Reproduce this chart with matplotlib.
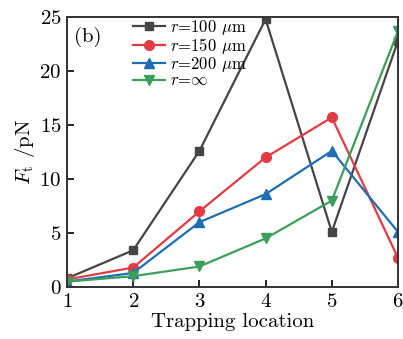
import matplotlib
matplotlib.use('Agg')
import matplotlib.pyplot as plt

plt.rcParams['font.family'] = 'serif'
plt.rcParams['font.serif'] = ['cmr10', 'DejaVu Serif']
plt.rcParams['mathtext.fontset'] = 'cm'
plt.rcParams['axes.formatter.use_mathtext'] = True

# trapping force at each trapping location
location = [1, 2, 3, 4, 5, 6]
f_r100 = [0.8, 3.4, 12.6, 24.8, 5.1, 22.8]
f_r150 = [0.7, 1.8, 7.0, 12.0, 15.7, 2.7]
f_r200 = [0.5, 1.3, 6.0, 8.6, 12.6, 5.1]
f_inf = [0.5, 1.0, 1.9, 4.5, 8.0, 23.7]

labels = [r'$r$=100 $\mathrm{\mu}$m', r'$r$=150 $\mathrm{\mu}$m',
          r'$r$=200 $\mathrm{\mu}$m', r'$r$=$\infty$']

fig = plt.figure(figsize=(4.03, 3.39), dpi=100)
ax = fig.add_axes([67/403, 1 - 287/339, 331/403, 270/339])

ax.plot(location, f_r100, color='#454545', marker='s', ms=6, lw=1.6, label=labels[0])
ax.plot(location, f_r150, color='#e23b43', marker='o', ms=7, lw=1.6, label=labels[1])
ax.plot(location, f_r200, color='#1f6db5', marker='^', ms=7, lw=1.6, label=labels[2])
ax.plot(location, f_inf, color='#3a9f5a', marker='v', ms=7, lw=1.6, label=labels[3])

ax.set_xlim(1, 6)
ax.set_ylim(0, 25)
ax.set_xticks(location)
ax.set_yticks([0, 5, 10, 15, 20, 25])
ax.tick_params(direction='in', labelsize=15, length=5, width=1.2, pad=4)
for s in ax.spines.values():
    s.set_linewidth(1.4)
    s.set_color('#333333')

ax.set_xlabel('Trapping location', fontsize=15, labelpad=2)
ax.set_ylabel(r'$F_{\rm t}$ /pN', fontsize=15, labelpad=2)
ax.text(0.02, 0.965, '(b)', transform=ax.transAxes, fontsize=15, va='top')

ax.legend(loc='upper left', bbox_to_anchor=(0.17, 1.035), frameon=False, fontsize=12,
          handlelength=1.9, handletextpad=0.3, labelspacing=-0.05, borderaxespad=0.2)

fig.savefig('out.png', dpi=100)
